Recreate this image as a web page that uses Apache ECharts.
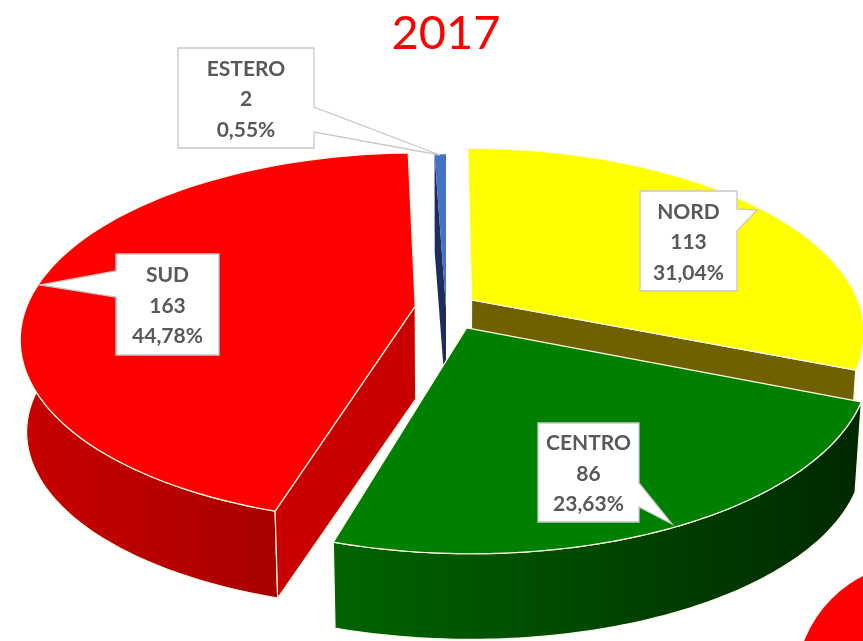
<!DOCTYPE html>
<html><head><meta charset="utf-8">
<style>html,body{margin:0;padding:0;background:#fff}#c{width:863px;height:641px}</style>
<script src="https://cdn.jsdelivr.net/npm/echarts@6/dist/echarts.min.js"></script>
</head><body><div id="c"></div>
<script>
const categories = ['NORD', 'CENTRO', 'SUD', 'ESTERO'];
const values = [113, 86, 163, 2];
const title = '2017';

const topColors = ['#ffff00', '#008000', '#ff0000', '#4472c4'];
const cutColors = ['#6f6000', null, '#c80000', '#1c2c5c'];
const wallLeft = ['#5a4e00', '#006400', '#c80000', '#1c2c5c'];
const wallRight = ['#3a3200', '#002800', '#a80000', '#1c2c5c'];
const cutSide = ['end', null, 'start', 'start'];
const explode = [0.08, 0.12, 0.08, 0];
const drawRank = [1, 4, 3, 2];
// callout boxes [x, y, w, h] and tails [base1, tip, base2]
const boxes = [[640, 191, 97, 100], [538, 423, 101, 99], [116, 254, 103, 101], [178, 48, 136, 100]];
const tails = [
  [[737, 209], [757, 210], [737, 231]],
  [[639, 483], [672, 524], [639, 507]],
  [[116, 297], [40, 285], [116, 271]],
  [[314, 107], [440, 155], [314, 132]]
];
const CX = 446, CY = 308, R = 389, RY = 180, K = 0.17, DEPTH = 93, SHRINK_X = 0.985, SHRINK_Y = 0.97;

const total = values.reduce((a, b) => a + b, 0);
const starts = [];
values.reduce((acc, v, i) => { starts[i] = acc; return acc + v; }, 0);
const toAngle = v => v / total * Math.PI * 2;

function project(u, v) {
  const w = 1 / (1 + K * v);
  return [CX + R * u * w, CY - RY * v * w];
}
function lower(p) {
  return [CX + SHRINK_X * (p[0] - CX), CY + DEPTH + SHRINK_Y * (p[1] - CY)];
}
function renderItem(params) {
  const i = params.dataIndex;
  const a0 = toAngle(starts[i]), a1 = toAngle(starts[i] + values[i]);
  const mid = (a0 + a1) / 2;
  const u0 = explode[i] * Math.sin(mid), v0 = explode[i] * Math.cos(mid);
  const apex = project(u0, v0);
  const arc = [], frontArc = [];
  const n = 90;
  for (let k = 0; k <= n; k++) {
    const a = a0 + (a1 - a0) * k / n;
    const p = project(u0 + Math.sin(a), v0 + Math.cos(a));
    arc.push(p);
    if (Math.cos(a) < 0.1) frontArc.push(p);
  }
  const z = drawRank[i] * 10;
  const line = { stroke: '#fffbe8', lineWidth: 1.2, lineJoin: 'round' };
  const kids = [];
  // outer wall, only the part turned towards the viewer
  if (i !== 3) {
    kids.push({
      type: 'polygon', z2: z,
      shape: { points: frontArc.concat(frontArc.slice().reverse().map(lower)) },
      style: Object.assign({
        fill: { type: 'linear', x: 0, y: 0, x2: 1, y2: 0, colorStops: [
          { offset: 0, color: wallLeft[i] }, { offset: 1, color: wallRight[i] }] }
      }, line)
    });
  }
  // cut wall
  if (cutSide[i]) {
    const e = cutSide[i] === 'start' ? arc[0] : arc[n];
    kids.push({
      type: 'polygon', z2: z + 1,
      shape: { points: [apex, e, lower(e), lower(apex)] },
      style: Object.assign({ fill: cutColors[i] }, i === 3 ? { stroke: 'none' } : line)
    });
  }
  // top face
  kids.push({
    type: 'polygon', z2: z + 2,
    shape: { points: [apex].concat(arc) },
    style: Object.assign({ fill: topColors[i] }, i === 3 ? { stroke: 'none' } : line)
  });
  // callout
  const b = boxes[i], t = tails[i];
  const right = t[0][0] === b[0] + b[2], left = t[0][0] === b[0];
  let pts = [[b[0], b[1]], [b[0] + b[2], b[1]]];
  if (right) pts = pts.concat(t);
  pts.push([b[0] + b[2], b[1] + b[3]], [b[0], b[1] + b[3]]);
  if (left) pts = pts.concat(t);
  kids.push({
    type: 'polygon', z2: 100,
    shape: { points: pts },
    style: { fill: '#ffffff', stroke: '#c8c8cc', lineWidth: 1.3 }
  });
  const pct = (values[i] / total * 100).toFixed(2).replace('.', ',') + '%';
  kids.push({
    type: 'text', z2: 101,
    style: {
      x: b[0] + b[2] / 2, y: b[1] + b[3] / 2 + 1.5,
      text: categories[i] + '\n' + values[i] + '\n' + pct,
      align: 'center', verticalAlign: 'middle',
      font: 'bold 21px Lato', lineHeight: 30.5, fill: '#595959'
    }
  });
  return { type: 'group', children: kids };
}
const chart = echarts.init(document.getElementById('c'), null, { renderer: 'canvas' });
chart.setOption({
  animation: false,
  backgroundColor: '#ffffff',
  graphic: [
    { type: 'circle', shape: { cx: 918, cy: 685, r: 122 }, style: { fill: '#ff0000' }, z: 0 },
    { type: 'text', x: 446, y: 34, style: { text: title, align: 'center', verticalAlign: 'middle', font: '47px Lato', fill: '#ff0000' }, z: 5 }
  ],
  series: [{
    type: 'custom',
    coordinateSystem: 'none',
    renderItem,
    clip: false,
    silent: true,
    data: categories.map((name, i) => ({ name, value: values[i] }))
  }]
});
</script></body></html>
